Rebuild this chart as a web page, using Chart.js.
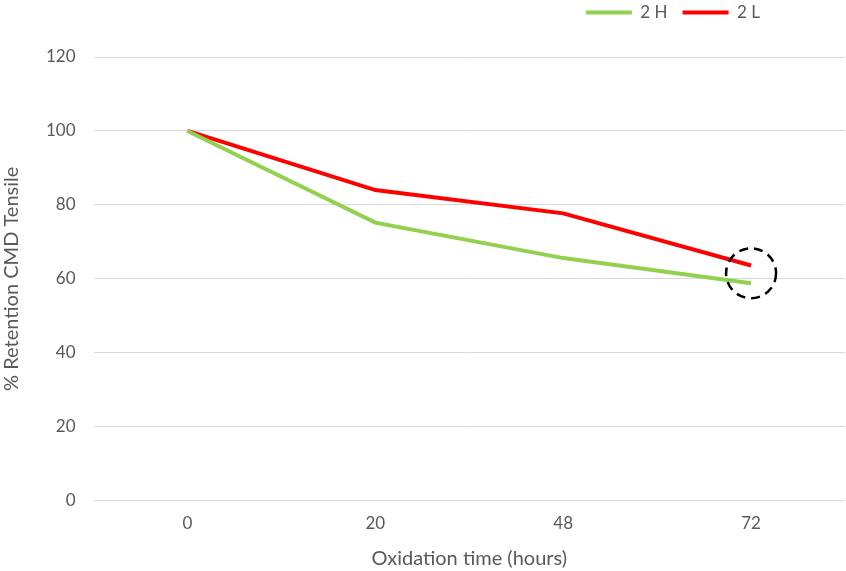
<!DOCTYPE html>
<html>
<head>
    <meta charset="utf-8">
    <title>% Retention CMD Tensile</title>
    <script src="https://cdn.jsdelivr.net/npm/chart.js@4/dist/chart.umd.min.js"></script>
    <style>
        html, body { margin: 0; padding: 0; background: #fff; }
        #wrap { width: 846px; height: 571px; }
    </style>
</head>
<body>
    <div id="wrap"><canvas id="c1" width="846" height="571"></canvas></div>
    <script>
        // data
        var hours = ["0", "20", "48", "72"];
        var series2H = [100, 75.2, 65.6, 58.8];
        var series2L = [100, 84.0, 77.7, 63.6];
        var yTicks = [0, 20, 40, 60, 80, 100, 120];
        // dashed circle marks the last point (category index, value)
        var markIndex = 3;
        var markValue = 61.5;

        var green = "#92D050";
        var red = "#FF0000";
        var grey = "#595959";

        var circleMark = {
            id: "circleMark",
            afterLayout: function(chart) {
                // legend sits a bit in from the right edge and higher up
                chart.legend.right = chart.legend.right - 70;
                chart.legend.top = chart.legend.top - 26;
                chart.legend.bottom = chart.legend.bottom - 26;
            },
            afterDatasetsDraw: function(chart) {
                var ctx = chart.ctx;
                var x = chart.scales.x.getPixelForValue(markIndex);
                var y = chart.scales.y.getPixelForValue(markValue);
                ctx.save();
                ctx.beginPath();
                ctx.setLineDash([9, 6]);
                ctx.lineWidth = 2.5;
                ctx.strokeStyle = "#000";
                ctx.arc(x, y, 25, 0, Math.PI * 2);
                ctx.stroke();
                ctx.restore();
            }
        };

        var chart = new Chart(document.getElementById("c1"), {
            type: "line",
            data: {
                labels: hours,
                datasets: [{
                    label: "2 H",
                    data: series2H,
                    borderColor: green,
                    backgroundColor: green,
                    borderWidth: 4,
                    pointRadius: 0,
                    tension: 0
                }, {
                    label: "2 L",
                    data: series2L,
                    borderColor: red,
                    backgroundColor: red,
                    borderWidth: 4,
                    pointRadius: 0,
                    tension: 0
                }]
            },
            options: {
                responsive: false,
                animation: false,
                layout: { padding: { left: 0, right: 1, top: 15, bottom: 0 } },
                font: { family: "Lato" },
                plugins: {
                    legend: {
                        position: "top",
                        align: "end",
                        labels: {
                            boxWidth: 46,
                            boxHeight: 4,
                            padding: 15,
                            color: grey,
                            font: { family: "Lato", size: 17 },
                            generateLabels: function(chart) {
                                return chart.data.datasets.map(function(ds, i) {
                                    return {
                                        text: ds.label,
                                        fillStyle: ds.borderColor,
                                        strokeStyle: ds.borderColor,
                                        lineWidth: 0,
                                        fontColor: grey,
                                        datasetIndex: i
                                    };
                                });
                            }
                        }
                    },
                    tooltip: { enabled: false }
                },
                scales: {
                    x: {
                        offset: true,
                        grid: { display: false, drawTicks: false },
                        border: { display: false },
                        ticks: { color: grey, padding: 13, font: { family: "Lato", size: 17 } },
                        title: {
                            display: true,
                            text: "Oxidation time (hours)",
                            color: grey,
                            padding: { top: 0, bottom: 0 },
                            font: { family: "Lato", size: 20 }
                        }
                    },
                    y: {
                        min: 0,
                        max: 120,
                        afterBuildTicks: function(axis) {
                            axis.ticks = yTicks.map(function(v) { return { value: v }; });
                        },
                        grid: { color: "#D9D9D9", lineWidth: 1, drawTicks: false },
                        border: { display: false },
                        ticks: { color: grey, padding: 18, font: { family: "Lato", size: 17 } },
                        title: {
                            display: true,
                            text: "% Retention CMD Tensile",
                            color: grey,
                            padding: { top: 0, bottom: 4 },
                            font: { family: "Lato", size: 20 }
                        }
                    }
                }
            },
            plugins: [circleMark]
        });
    </script>
</body>
</html>
